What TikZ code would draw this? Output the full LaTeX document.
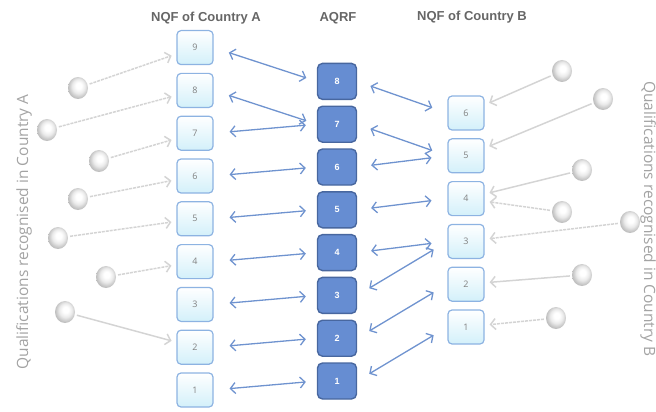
\documentclass[tikz,border=0pt]{standalone}
\usepackage{fontspec}
\setmainfont{Liberation Sans}
\newfontfamily\labelfont{Open Sans}
\usetikzlibrary{arrows.meta,positioning,shapes.geometric}

\definecolor{nqfborder}{HTML}{8DB3E2}
\definecolor{nqffill}{HTML}{D3F0FA}
\definecolor{aqrffill}{HTML}{668DD2}
\definecolor{aqrfborder}{HTML}{48679F}
\definecolor{linkblue}{HTML}{6F93CF}
\definecolor{recoggray}{HTML}{D4D4D4}
\definecolor{titlegray}{HTML}{666666}
\definecolor{sidegray}{HTML}{A3A3A3}

\pgfdeclareradialshading{pearl}{\pgfpoint{2bp}{6bp}}{%
  color(0bp)=(white); color(7bp)=(white); color(16bp)=(black!8);
  color(24bp)=(black!22); color(30bp)=(black!30); color(50bp)=(black!30)}

\tikzset{
  nqf/.style={rectangle,rounded corners=4pt,draw=nqfborder,line width=1.2pt,
    top color=white,bottom color=nqffill,minimum width=36pt,minimum height=34pt,
    text=gray,font=\labelfont\fontsize{9}{9}\selectfont},
  aqrf/.style={rectangle,rounded corners=5pt,draw=aqrfborder,line width=1.4pt,
    fill=aqrffill,minimum width=39pt,minimum height=36pt,
    text=white,font=\bfseries\fontsize{9}{9}\selectfont},
  qual/.style={ellipse,minimum width=20pt,minimum height=22pt,inner sep=0pt,
    shading=pearl},
  title/.style={text=titlegray,font=\bfseries\fontsize{13}{13}\selectfont},
  side/.style={text=sidegray,font=\labelfont\fontsize{15.5}{15.5}\selectfont,anchor=base},
  link/.style={<->,color=linkblue,line width=1.3pt},
  recog/.style={->,color=recoggray,line width=1.5pt,shorten <=2pt,shorten >=5pt},
  dotty/.style={dash pattern=on 3pt off 1pt}
}

\begin{document}
\begin{tikzpicture}[x=1pt,y=-1pt,>={Straight Barb[length=5pt,width=11pt]},node distance=42.8pt,on grid]
  \useasboundingbox (0,0) rectangle (656,412);

  % column titles
  \node[title] (ta) at (206,18) {NQF of Country A};
  \node[title] (tq) at (338,18) {AQRF};
  \node[title] (tb) at (472,17) {NQF of Country B};

  % NQF of country A
  \node[nqf] (a1) at (195,390) {1};
  \node[nqf] [above=of a1] (a2) {2};
  \node[nqf] [above=of a2] (a3) {3};
  \node[nqf] [above=of a3] (a4) {4};
  \node[nqf] [above=of a4] (a5) {5};
  \node[nqf] [above=of a5] (a6) {6};
  \node[nqf] [above=of a6] (a7) {7};
  \node[nqf] [above=of a7] (a8) {8};
  \node[nqf] [above=of a8] (a9) {9};

  % AQRF
  \node[aqrf] (q1) at (337,381) {1};
  \node[aqrf] [above=of q1] (q2) {2};
  \node[aqrf] [above=of q2] (q3) {3};
  \node[aqrf] [above=of q3] (q4) {4};
  \node[aqrf] [above=of q4] (q5) {5};
  \node[aqrf] [above=of q5] (q6) {6};
  \node[aqrf] [above=of q6] (q7) {7};
  \node[aqrf] [above=of q7] (q8) {8};

  % NQF of country B
  \node[nqf] (b1) at (466,327) {1};
  \node[nqf] [above=of b1] (b2) {2};
  \node[nqf] [above=of b2] (b3) {3};
  \node[nqf] [above=of b3] (b4) {4};
  \node[nqf] [above=of b4] (b5) {5};
  \node[nqf] [above=of b5] (b6) {6};

  % qualifications
  \node[qual] (qa1) at (78,88) {};
  \node[qual] (qa2) at (47,130) {};
  \node[qual] (qa3) at (99,161) {};
  \node[qual] (qa4) at (78,199) {};
  \node[qual] (qa5) at (58,238) {};
  \node[qual] (qa6) at (106,277) {};
  \node[qual] (qa7) at (65,312) {};
  \node[qual] (qb1) at (562,71) {};
  \node[qual] (qb2) at (603,99) {};
  \node[qual] (qb3) at (582,170) {};
  \node[qual] (qb4) at (562,212) {};
  \node[qual] (qb5) at (630,222) {};
  \node[qual] (qb6) at (582,275) {};
  \node[qual] (qb7) at (556,318) {};

  \node[side,rotate=90] (sa) at (28,232) {Qualifications recognised in Country A};
  \node[side,rotate=-90] (sb) at (644,219) {Qualifications recognised in Country B};

  \path[recog]
    (qa1) edge [dotty] (a9)
    (qa2) edge [dotty] (a8)
    (qa3) edge [dotty] (a7)
    (qa4) edge [dotty] (a6)
    (qa5) edge [dotty] (a5)
    (qa6) edge [dotty] (a4)
    (qa7) edge (a2)
    (qb1) edge (b6)
    (qb2) edge (b5)
    (qb3) edge (b4)
    (qb4) edge [dotty] (b4)
    (qb5) edge [dotty] (b3)
    (qb6) edge (b2)
    (qb7) edge [dotty] (b1);

  \path[link,shorten <=16pt,shorten >=11pt]
    (a9.east) edge (q8.west)
    (a8.east) edge (q7.west)
    (a7.east) edge (q7.west)
    (a6.east) edge (q6.west)
    (a5.east) edge (q5.west)
    (a4.east) edge (q4.west)
    (a3.east) edge (q3.west)
    (a2.east) edge (q2.west)
    (a1.east) edge (q1.west);

  \path[link,shorten <=14pt,shorten >=16pt]
    (q8.east) edge (b6.west)
    (q7.east) edge (b5.west)
    (q6.east) edge (b5.west)
    (q5.east) edge (b4.west)
    (q4.east) edge (b3.west)
    (q3.east) edge (b3.west)
    (q2.east) edge (b2.west)
    (q1.east) edge (b1.west);
\end{tikzpicture}
\end{document}
